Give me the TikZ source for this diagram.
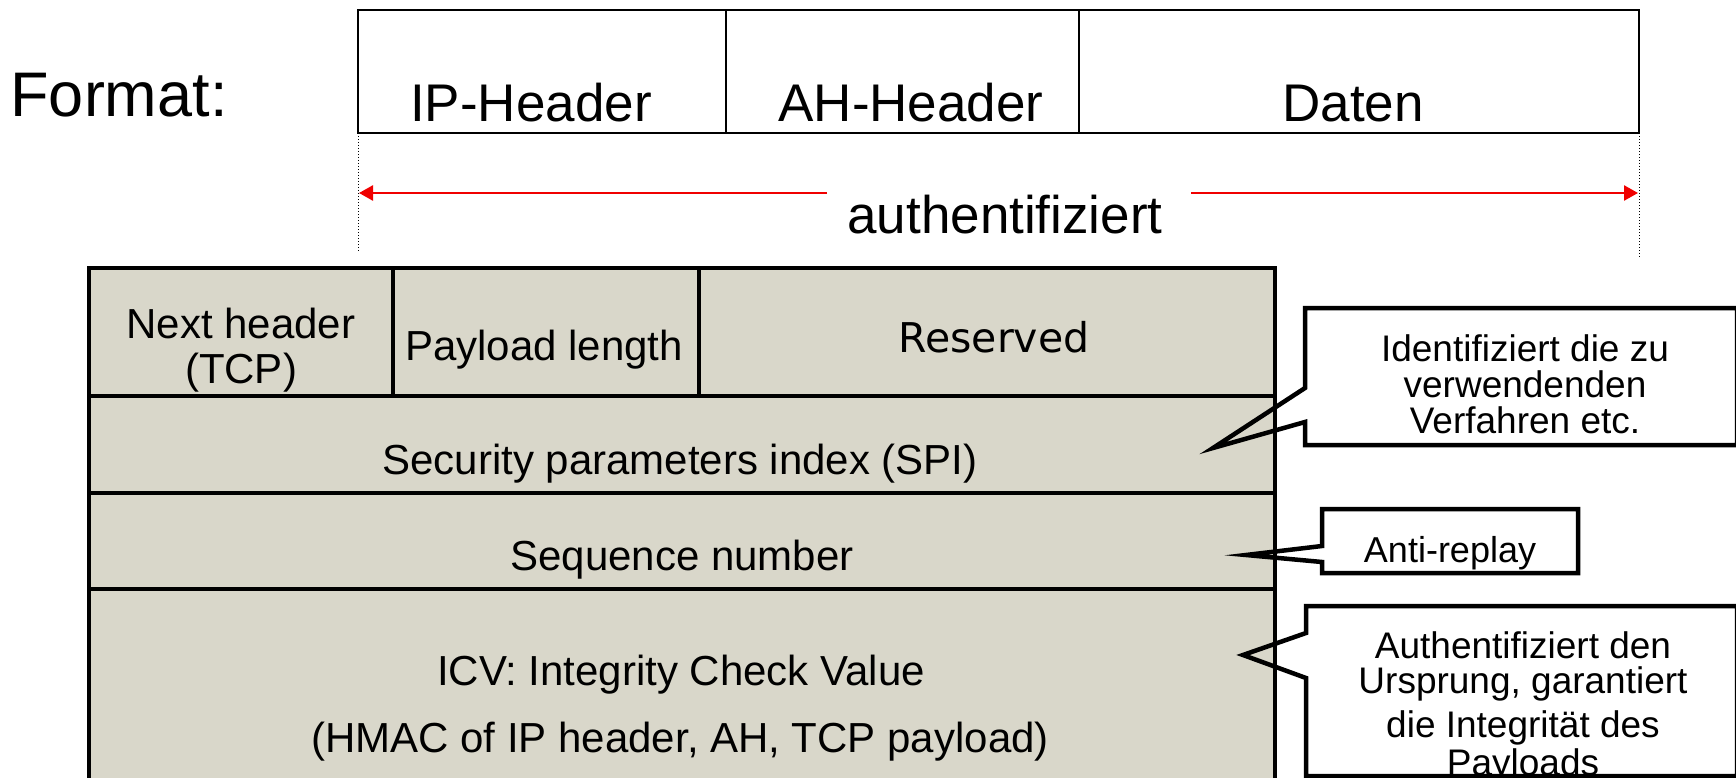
\documentclass[tikz,border=0pt]{standalone}
\usepackage{fontspec}
\setmainfont{Liberation Sans}
\newfontfamily\dejavu{DejaVu Sans}
\usetikzlibrary{arrows.meta}
\definecolor{boxfill}{RGB}{217,215,202}
\definecolor{arrred}{RGB}{240,0,0}
\begin{document}
\begin{tikzpicture}[x=1pt,y=-1pt,
  txt/.style={anchor=base,inner sep=0pt},
  big/.style={txt,font=\fontsize{53}{60}\selectfont},
  mid/.style={txt,font=\fontsize{42}{48}\selectfont},
  sm/.style={txt,font=\fontsize{37}{42}\selectfont},
  thinline/.style={line width=1.5pt},
  thickline/.style={line width=4.5pt},
  calloutline/.style={line width=4.5pt, line join=miter},
  dimline/.style={arrred, line width=2.5pt, -{Triangle[length=14pt,width=15pt]}},
  guide/.style={dotted, line width=1pt}]
\useasboundingbox (0,0) rectangle (1736,778);
\clip (0,0) rectangle (1736,778);

% ---------- top format ----------
\node[txt,font=\fontsize{63}{70}\selectfont] (fmt) at (119,117) {Format:};
\draw[thinline] (358,10) rectangle (1639,133);
\draw[thinline] (726,10) -- (726,133);
\draw[thinline] (1079,10) -- (1079,133);
\node[big] (iph) at (531,122) {IP-Header};
\node[big] (ahh) at (911,122) {AH-Header};
\node[big] (dat) at (1353,122) {Daten};

\draw[guide] (358,133) -- (358,252);
\draw[guide] (1639,133) -- (1639,258);

\node[big] (auth) at (1005,233) {authentifiziert};
\coordinate (aLs) at (827,193);
\coordinate (aLe) at (359,193);
\coordinate (aRs) at (1191,193);
\coordinate (aRe) at (1638,193);
\draw[dimline] (aLs) -- (aLe);
\draw[dimline] (aRs) -- (aRe);

% ---------- AH header ----------
\fill[boxfill] (89,268) rectangle (1275,800);
\draw[thickline] (89,800) -- (89,268) -- (1275,268) -- (1275,800);
\draw[thickline] (89,396) -- (1275,396);
\draw[thickline] (89,493) -- (1275,493);
\draw[thickline] (89,589) -- (1275,589);
\draw[thickline] (393,268) -- (393,396);
\draw[thickline] (699,268) -- (699,396);

\node[mid] (nh1) at (241,338) {Next header};
\node[mid] (nh2) at (241,383) {(TCP)};
\node[mid] (pl) at (544,360) {Payload length};
\node[txt,font=\dejavu\fontsize{41}{48}\selectfont] (res) at (994,352) {Reserved};
\node[mid] (spi) at (680,474) {Security parameters index (SPI)};
\node[mid] (seq) at (682,570) {Sequence number};
\node[mid] (icv1) at (681,685) {ICV: Integrity Check Value};
\node[mid] (icv2) at (680,752) {(HMAC of IP header, AH, TCP payload)};

% ---------- callouts ----------
\draw[calloutline] (1305,308) -- (1737,308) -- (1737,445) -- (1305,445)
  -- (1305,422) -- (1213,448) -- (1305,388) -- cycle;
\node[sm] (c1a) at (1525,361) {Identifiziert die zu};
\node[sm] (c1b) at (1525,397) {verwendenden};
\node[sm] (c1c) at (1525,433) {Verfahren etc.};

\draw[calloutline] (1322,509) -- (1578,509) -- (1578,573) -- (1322,573)
  -- (1322,562) -- (1246,555) -- (1322,546) -- cycle;
\node[txt,font=\fontsize{36}{42}\selectfont] (c2) at (1450,562) {Anti-replay};

\draw[calloutline] (1306,606) -- (1737,606) -- (1737,776) -- (1306,776)
  -- (1306,678) -- (1243,655) -- (1306,633) -- cycle;
\node[sm] (c3a) at (1523,658) {Authentifiziert den};
\node[sm] (c3b) at (1523,693) {Ursprung, garantiert};
\node[sm] (c3c) at (1523,737) {die Integrität des};
\node[sm] (c3d) at (1523,775) {Payloads};
\end{tikzpicture}
\end{document}
